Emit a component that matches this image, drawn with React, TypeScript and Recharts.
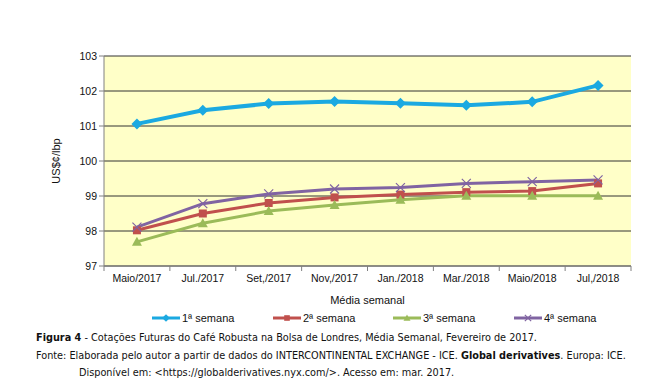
import { CartesianGrid, Line, LineChart, XAxis, YAxis } from 'recharts';

const months = ['Maio/2017', 'Jul./2017', 'Set,/2017', 'Nov,/2017', 'Jan./2018', 'Mar./2018', 'Maio/2018', 'Jul,/2018'];
const semana1 = [101.06, 101.45, 101.64, 101.7, 101.65, 101.59, 101.69, 102.16];
const semana2 = [98.02, 98.5, 98.8, 98.96, 99.04, 99.11, 99.14, 99.36];
const semana3 = [97.69, 98.22, 98.57, 98.74, 98.89, 99.01, 99.01, 99.01];
const semana4 = [98.11, 98.78, 99.06, 99.2, 99.24, 99.36, 99.41, 99.46];
const yTicks = [97, 98, 99, 100, 101, 102, 103];

const data = months.map((month, i) => ({
  month,
  s1: semana1[i],
  s2: semana2[i],
  s3: semana3[i],
  s4: semana4[i]
}));

const W = 664;
const PLOT_LEFT = 104;
const PLOT_RIGHT = 631;
const BAND = (PLOT_RIGHT - PLOT_LEFT) / months.length;
const FONT = 'Liberation Sans, Arial, sans-serif';

type MarkerKind = 'diamond' | 'square' | 'triangle' | 'cross';

const series: { key: string; name: string; color: string; width: number; marker: MarkerKind }[] = [
  { key: 's1', name: '1ª semana', color: '#1ba9e1', width: 4, marker: 'diamond' },
  { key: 's2', name: '2ª semana', color: '#c0504d', width: 3, marker: 'square' },
  { key: 's3', name: '3ª semana', color: '#9bbb59', width: 3, marker: 'triangle' },
  { key: 's4', name: '4ª semana', color: '#8064a2', width: 3, marker: 'cross' }
];

function Marker({ kind, cx, cy, color, r = 1 }: { kind: MarkerKind; cx: number; cy: number; color: string; r?: number }) {
  if (kind === 'diamond') {
    const d = 5.5 * r;
    return <path d={`M${cx},${cy - d}L${cx + d},${cy}L${cx},${cy + d}L${cx - d},${cy}Z`} fill={color} />;
  }
  if (kind === 'square') {
    const d = 4 * r;
    return <rect x={cx - d} y={cy - d} width={2 * d} height={2 * d} fill={color} />;
  }
  if (kind === 'triangle') {
    const d = 5 * r;
    return <path d={`M${cx},${cy - d}L${cx + d},${cy + 0.8 * d}L${cx - d},${cy + 0.8 * d}Z`} fill={color} />;
  }
  const d = 4.5 * r;
  return (
    <path d={`M${cx - d},${cy - d}L${cx + d},${cy + d}M${cx + d},${cy - d}L${cx - d},${cy + d}`} stroke={color} strokeWidth={1.2} />
  );
}

function XTick({ x, y, payload, index }: any) {
  return (
    <g>
      <line x1={x - BAND / 2} y1={y - 8} x2={x - BAND / 2} y2={y - 3} stroke="#808080" />
      {index === months.length - 1 && <line x1={x + BAND / 2} y1={y - 8} x2={x + BAND / 2} y2={y - 3} stroke="#808080" />}
      <text x={x} y={y + 8} textAnchor="middle" fontSize={10.5} fontFamily={FONT} fill="#111">
        {payload.value}
      </text>
    </g>
  );
}

function LegendRow() {
  const lefts = [152, 273, 393, 514];
  return (
    <svg width={W} height={20} style={{ position: 'absolute', left: 0, top: 308 }}>
      {series.map((s, i) => (
        <g key={s.key}>
          <line x1={lefts[i]} y1={10} x2={lefts[i] + 28} y2={10} stroke={s.color} strokeWidth={3} />
          <Marker kind={s.marker} cx={lefts[i] + 14} cy={10} color={s.color} r={0.7} />
          <text x={lefts[i] + 30} y={14} fontSize={11} fontFamily={FONT} fill="#111">{s.name}</text>
        </g>
      ))}
    </svg>
  );
}

export default function App() {
  return (
    <div style={{ position: 'absolute', left: 0, top: 0, width: W, height: 391, background: '#fff' }}>
      <LineChart width={W} height={310} data={data} margin={{ top: 56, right: W - PLOT_RIGHT, left: 0, bottom: 0 }}>
        <CartesianGrid vertical={false} stroke="#333" fill="#ffffc8" fillOpacity={1} />
        <XAxis
          dataKey="month"
          height={44}
          stroke="#808080"
          tickLine={false}
          interval={0}
          padding={{ left: BAND / 2, right: BAND / 2 }}
          tick={<XTick />}
          label={{ value: 'Média semanal', position: 'insideBottom', offset: 6, fontSize: 11, fontFamily: FONT, fill: '#111' }}
        />
        <XAxis xAxisId="top" orientation="top" dataKey="month" height={0} stroke="#808080" tick={false} tickLine={false} />
        <YAxis
          width={PLOT_LEFT}
          domain={[97, 103]}
          ticks={yTicks}
          interval={0}
          stroke="#808080"
          tickSize={5}
          tick={{ fontSize: 10.5, fontFamily: FONT, fill: '#111' }}
          label={{ value: 'US$¢/lbp', angle: -90, position: 'insideLeft', offset: 56, fontSize: 11, fontFamily: FONT, fill: '#111', style: { textAnchor: 'middle' } }}
        />
        <YAxis yAxisId="right" orientation="right" width={0} stroke="#808080" tick={false} tickLine={false} />
        {series.map((s) => (
          <Line
            key={s.key}
            dataKey={s.key}
            name={s.name}
            stroke={s.color}
            strokeWidth={s.width}
            isAnimationActive={false}
            dot={(p: any) => <Marker key={`${s.key}-${p.index}`} kind={s.marker} cx={p.cx} cy={p.cy} color={s.color} />}
          />
        ))}
      </LineChart>
      <LegendRow />
      <div style={{ position: 'absolute', left: 36, top: 329, fontFamily: 'DejaVu Sans Condensed, sans-serif', fontSize: 10.8, color: '#111', lineHeight: '17.5px', whiteSpace: 'nowrap' }}>
        <div><b>Figura 4</b> - Cotações Futuras do Café Robusta na Bolsa de Londres, Média Semanal, Fevereiro de 2017.</div>
        <div>Fonte: Elaborada pelo autor a partir de dados do INTERCONTINENTAL EXCHANGE - ICE. <b>Global derivatives</b>. Europa: ICE.</div>
        <div style={{ paddingLeft: 43 }}>Disponível em: &lt;https://globalderivatives.nyx.com/&gt;. Acesso em: mar. 2017.</div>
      </div>
    </div>
  );
}
